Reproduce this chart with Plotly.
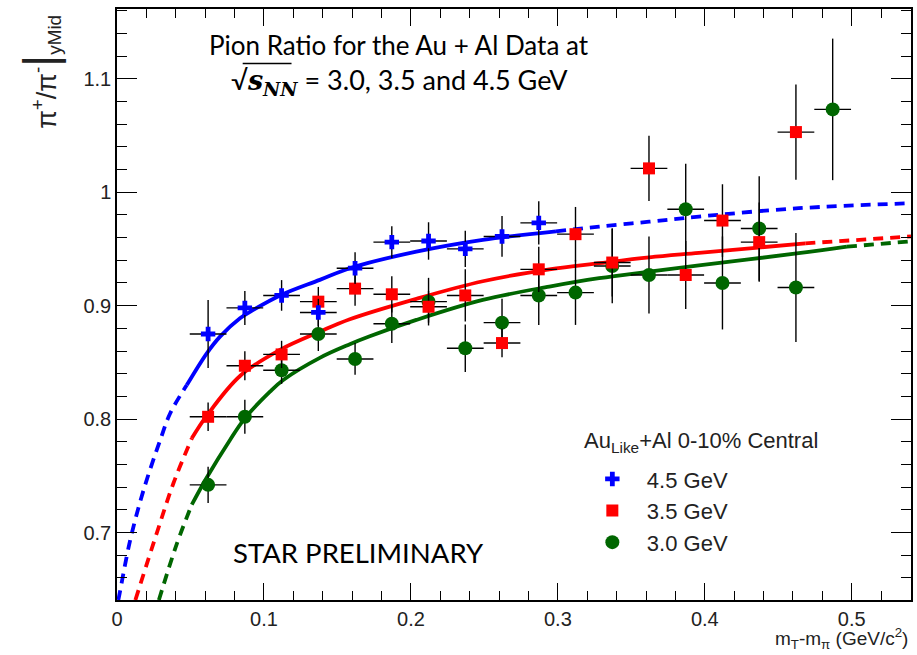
import plotly.graph_objects as go

# ---------------- data ----------------
x_bins = [0.062, 0.087, 0.112, 0.137, 0.162, 0.187, 0.212, 0.237, 0.262, 0.287,
          0.312, 0.337, 0.362, 0.387, 0.412, 0.437, 0.462, 0.487]
x_halfwidth = 0.0125

ratio_45 = [0.875, 0.898, 0.909, 0.894, 0.933, 0.956, 0.957, 0.950, 0.961, 0.973]
err_45 = [0.030, 0.015, 0.0135, 0.012, 0.014, 0.014, 0.0165, 0.016, 0.018, 0.019]

ratio_35 = [0.802, 0.847, 0.857, 0.9035, 0.915, 0.910, 0.899, 0.909, 0.867, 0.932,
            0.963, 0.938, 1.021, 0.927, 0.975, 0.956, 1.053]
err_35 = [0.0125, 0.0127, 0.012, 0.013, 0.015, 0.016, 0.014, 0.023, 0.0126, 0.020,
          0.024, 0.030, 0.0287, 0.030, 0.032, 0.035, 0.042]

ratio_30 = [0.742, 0.802, 0.843, 0.875, 0.853, 0.884, 0.9035, 0.8624, 0.885, 0.909,
            0.9115, 0.935, 0.927, 0.985, 0.920, 0.968, 0.916, 1.073]
err_30 = [0.016, 0.015, 0.012, 0.015, 0.014, 0.017, 0.021, 0.021, 0.021, 0.026,
          0.0285, 0.033, 0.034, 0.040, 0.041, 0.046, 0.048, 0.0624]

# fit curves
fit_x_45 = [0.0009, 0.0018, 0.009, 0.0181, 0.0294, 0.0362, 0.0475, 0.0611, 0.0701, 0.0837,
            0.0927, 0.1117, 0.138, 0.1584, 0.2037, 0.2489, 0.2987, 0.3281, 0.3621, 0.396,
            0.4639, 0.5403]
fit_y_45 = [0.6405, 0.6464, 0.6934, 0.7375, 0.7815, 0.8051, 0.830, 0.858, 0.8727, 0.8889,
            0.8962, 0.9094, 0.9227, 0.933, 0.9476, 0.958, 0.9655, 0.9697, 0.974, 0.9785,
            0.9859, 0.9903]
fit_range_45 = [0.0475, 0.2987]

fit_x_35 = [0.0125, 0.0272, 0.0384, 0.0509, 0.0611, 0.0837, 0.1109, 0.138, 0.1584, 0.2037,
            0.2489, 0.2942, 0.3281, 0.3621, 0.396, 0.4684, 0.5403]
fit_y_35 = [0.6405, 0.700, 0.7434, 0.783, 0.803, 0.838, 0.861, 0.877, 0.888, 0.906,
            0.9215, 0.932, 0.9374, 0.9425, 0.9465, 0.9549, 0.961]
fit_range_35 = [0.0509, 0.4684]

fit_x_30 = [0.0285, 0.0407, 0.0509, 0.0611, 0.0769, 0.0866, 0.1041, 0.1131, 0.138, 0.1584,
            0.172, 0.2037, 0.2489, 0.2942, 0.3281, 0.3621, 0.396, 0.4639, 0.4967, 0.5403]
fit_y_30 = [0.6405, 0.690, 0.7245, 0.7485, 0.7816, 0.800, 0.8242, 0.8345, 0.854, 0.866,
            0.873, 0.8874, 0.905, 0.9168, 0.9242, 0.930, 0.9355, 0.9462, 0.952, 0.9567]
fit_range_30 = [0.0509, 0.4967]

legend_title = "Au<sub>Like</sub>+Al 0-10% Central"
series_names = ["4.5 GeV", "3.5 GeV", "3.0 GeV"]

# ---------------- styling ----------------
BLUE = "#0000ff"
RED = "#ff0000"
GREEN = "#006600"
ARIAL = "Liberation Sans, Arial, sans-serif"
CAL = "Lato, Carlito, Calibri, sans-serif"
DASH = "10px,7px"

fig = go.Figure()


def add_fit(xs, ys, rng, color):
    lo, hi = rng
    segs = [
        ([x for x in xs if x <= lo], [y for x, y in zip(xs, ys) if x <= lo], DASH),
        ([x for x in xs if lo <= x <= hi], [y for x, y in zip(xs, ys) if lo <= x <= hi], "solid"),
        ([x for x in xs if x >= hi], [y for x, y in zip(xs, ys) if x >= hi], DASH),
    ]
    for sx, sy, dash in segs:
        fig.add_trace(go.Scatter(x=sx, y=sy, mode="lines", showlegend=False, hoverinfo="skip",
                                 line=dict(color=color, width=3.8, dash=dash, shape="spline",
                                           smoothing=1.0)))


add_fit(fit_x_45, fit_y_45, fit_range_45, BLUE)
add_fit(fit_x_35, fit_y_35, fit_range_35, RED)
add_fit(fit_x_30, fit_y_30, fit_range_30, GREEN)


def add_points(ys, errs, name, color, symbol, size, rank):
    n = len(ys)
    fig.add_trace(go.Scatter(
        x=x_bins[:n], y=ys, mode="markers", name=name, legendrank=rank,
        legendgroup=name,
        marker=dict(color=color, symbol=symbol, size=size, line=dict(width=0)),
        error_y=dict(type="data", array=errs, color="black", thickness=1.4, width=0),
        error_x=dict(type="constant", value=x_halfwidth, color="black", thickness=1.4, width=0),
    ))


add_points(ratio_30, err_30, series_names[2], GREEN, "circle", 14, 3)
add_points(ratio_35, err_35, series_names[1], RED, "square", 12, 2)
add_points(ratio_45, err_45, series_names[0], BLUE, "cross", 12, 1)

axis_common = dict(
    showgrid=False, zeroline=False, showline=True, linecolor="black", linewidth=1.5,
    mirror="allticks", ticks="inside", tickcolor="black", tickwidth=1.3,
    tickfont=dict(family=ARIAL, size=20, color="#222"),
)

fig.update_layout(
    width=917, height=655,
    margin=dict(l=117, r=4, t=9, b=55),
    plot_bgcolor="white", paper_bgcolor="white",
    xaxis=dict(range=[0, 0.5403], tick0=0, dtick=0.1, ticklen=17,
               minor=dict(ticks="inside", dtick=0.02, ticklen=9, tickcolor="black", tickwidth=1.2),
               **axis_common),
    yaxis=dict(range=[0.6405, 1.1615], tick0=0.7, dtick=0.1, ticklen=20,
               minor=dict(ticks="inside", dtick=0.02, ticklen=10, tickcolor="black", tickwidth=1.2),
               **axis_common),
    legend=dict(x=0.5804, y=0.240, xanchor="left", yanchor="top", bgcolor="rgba(0,0,0,0)",
                font=dict(family=ARIAL, size=22, color="#222"),
                traceorder="grouped", tracegroupgap=0, itemsizing="trace", itemwidth=59),
    showlegend=True,
)

fig.add_annotation(xref="paper", yref="paper", x=(583 - 117) / 796, y=(600 - 441.7) / 591,
                   xanchor="left", yanchor="middle", showarrow=False,
                   text=legend_title, font=dict(family=ARIAL, size=22, color="#222"))

fig.add_annotation(xref="paper", yref="paper", x=0.3555, y=0.939, xanchor="center",
                   yanchor="middle", showarrow=False,
                   text="Pion Ratio for the Au + Al Data at",
                   font=dict(family=CAL, size=26, color="black"))
fig.add_annotation(xref="paper", yref="paper", x=0.356, y=0.8765, xanchor="center",
                   yanchor="middle", showarrow=False,
                   text=("√<span style='font-family:DejaVu Serif'>"
                         "<b><i>s</i></b><sub><b><i>NN</i></b></sub></span> = 3.0, 3.5 and 4.5 GeV"),
                   font=dict(family=CAL, size=27, color="black"))
fig.add_shape(type="line", xref="paper", yref="paper", x0=0.1583, x1=0.2198,
              y0=0.9078, y1=0.9078, line=dict(color="black", width=1.5))
fig.add_annotation(xref="paper", yref="paper", x=0.304, y=0.080, xanchor="center",
                   yanchor="middle", showarrow=False,
                   text="STAR PRELIMINARY",
                   font=dict(family=CAL, size=27.5, color="black"))
fig.add_annotation(xref="paper", yref="paper", x=-0.098, y=0.894, xanchor="center",
                   yanchor="middle", showarrow=False, textangle=-90,
                   text="π<sup>+</sup>/π<sup>-</sup><span style='font-size:46px'>|</span><sub>yMid</sub>",
                   font=dict(family=ARIAL, size=27, color="#222"))
fig.add_annotation(xref="paper", yref="paper", x=0.999, y=-0.0643, xanchor="right",
                   yanchor="middle", showarrow=False,
                   text="m<sub>T</sub>-m<sub>π</sub> (GeV/c<sup>2</sup>)",
                   font=dict(family=ARIAL, size=19, color="#222"))

fig.write_html("out.html", config={"displayModeBar": False},
               post_script="document.body.style.margin='0';document.body.style.overflow='hidden';")
